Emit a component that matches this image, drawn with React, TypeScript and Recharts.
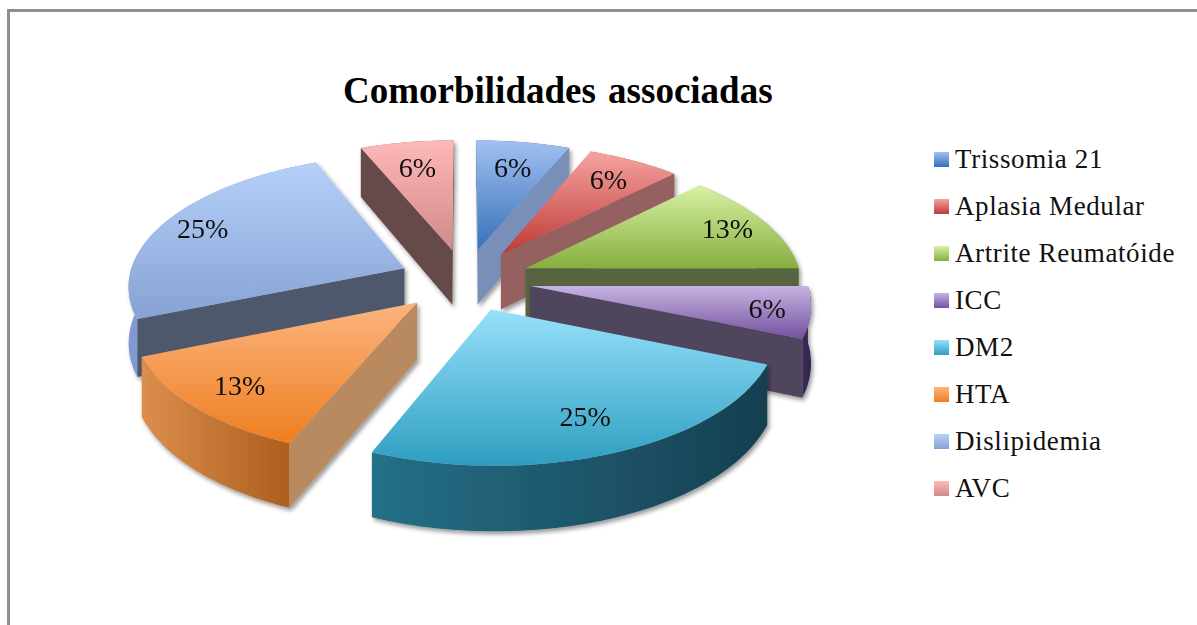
import { PieChart, Pie, Legend } from "recharts";

const categories = ["Trissomia 21", "Aplasia Medular", "Artrite Reumatóide", "ICC", "DM2", "HTA", "Dislipidemia", "AVC"];
const counts = [1, 1, 2, 1, 4, 2, 4, 1];
const percentLabels = ["6%", "6%", "13%", "6%", "25%", "13%", "25%", "6%"];

// top face gradient (light, dark), side wall, rim gradient
const topLight = ["#a2c0f2", "#f6a3a0", "#d6f2a4", "#c7b4e2", "#97e0fb", "#fcb480", "#b7d0fa", "#ffb8b8"];
const topDark = ["#3670b8", "#bd3a36", "#88ae3e", "#7350a0", "#2e9ec0", "#ee7e20", "#86a2d4", "#d08a8a"];
const wallColors = ["#7a8fb8", "#946060", "#566540", "#50455c", "#2a6a80", "#b98a60", "#4d596c", "#664848"];
const rimA = ["#5577aa", "#a04a48", "#6e8a38", "#3a2a55", "#257088", "#dc8e4c", "#7f9bd0", "#b07070"];
const rimB = ["#3a5a88", "#803a38", "#58702c", "#33264c", "#163f50", "#ac5e1e", "#7390c8", "#905a5a"];

// back to front, so nearer slices cover the ones behind
const paintOrder = [7, 0, 1, 6, 2, 3, 5, 4];

const data = categories.map((name, i) => ({ name, value: counts[i], label: percentLabels[i] }));

const EXPLODE = 0.24;
const TILT = 0.47;
const PERSP = 0.12;
const DEPTH = 56;

const rad = (d: number) => (d * Math.PI) / 180;

function makeProjector(cx: number, cy: number, R: number, mid: number) {
  return (r: number, theta: number, z: number) => {
    const U = EXPLODE * Math.sin(rad(mid)) + r * Math.sin(rad(theta));
    const V = -EXPLODE * Math.cos(rad(mid)) - r * Math.cos(rad(theta));
    const d = 1 / (1 - PERSP * V);
    return [cx + R * U * d, cy + R * TILT * V * d + z * DEPTH * d];
  };
}

const toPath = (pts: number[][]) =>
  "M" + pts.map((p) => p[0].toFixed(1) + "," + p[1].toFixed(1)).join("L") + "Z";

const signedArea = (pts: number[][]) =>
  pts.reduce((s, p, i) => {
    const q = pts[(i + 1) % pts.length];
    return s + p[0] * q[1] - q[0] * p[1];
  }, 0);

function sliceShape(only: number) {
  return (props: any) => {
    const { cx, cy, outerRadius, startAngle, endAngle, index } = props;
    if (index !== only) return <g />;
    const t0 = 90 - startAngle;
    const t1 = 90 - endAngle;
    const mid = (t0 + t1) / 2;
    const project = makeProjector(cx, cy, outerRadius, mid);

    const arc: number[] = [];
    for (let t = t0; t < t1; t += 1.5) arc.push(t);
    arc.push(t1);

    const top = [project(0, t0, 0), ...arc.map((t) => project(1, t, 0))];
    const rim = [...arc.map((t) => project(1, t, 0)), ...arc.slice().reverse().map((t) => project(1, t, 1))];
    const startWall = [project(0, t0, 0), project(1, t0, 0), project(1, t0, 1), project(0, t0, 1)];
    const endWall = [project(0, t1, 0), project(1, t1, 0), project(1, t1, 1), project(0, t1, 1)];
    // labels sit further out on the sides than at the top and front
    const labelPos = project(0.72 + 0.13 * Math.abs(Math.sin(rad(mid))), mid, 0);

    return (
      <g filter="url(#sliceShadow)">
        <path d={toPath(rim)} fill={`url(#rim${index})`} />
        {signedArea(startWall) < 0 && <path d={toPath(startWall)} fill={wallColors[index]} />}
        {signedArea(endWall) > 0 && <path d={toPath(endWall)} fill={wallColors[index]} />}
        <path d={toPath(top)} fill={`url(#top${index})`} />
        <text
          x={labelPos[0]}
          y={labelPos[1]}
          textAnchor="middle"
          dominantBaseline="central"
          fontFamily="'Liberation Serif'"
          fontSize={28}
          fill="#111"
        >
          {props.payload?.label ?? percentLabels[index]}
        </text>
      </g>
    );
  };
}

function LegendList() {
  return (
    <div style={{ fontFamily: "'Liberation Serif'", fontSize: 27, color: "#111" }}>
      {categories.map((c, i) => (
        <div key={c} style={{ display: "flex", alignItems: "center", height: 47 }}>
          <span
            style={{
              width: 15,
              height: 15,
              marginRight: 6,
              background: `linear-gradient(${topLight[i]}, ${topDark[i]})`,
            }}
          />
          <span style={{ letterSpacing: 0.6, whiteSpace: "nowrap" }}>{c}</span>
        </div>
      ))}
    </div>
  );
}

export default function App() {
  return (
    <div style={{ position: "absolute", left: 0, top: 0, width: 1197, height: 625, background: "#fff", overflow: "hidden" }}>
      <div
        style={{
          position: "absolute",
          left: 7,
          top: 9,
          width: 1300,
          height: 700,
          border: "3px solid #8e8e8e",
          boxSizing: "content-box",
        }}
      />
      <div
        style={{
          position: "absolute",
          left: 343,
          top: 69,
          width: 429,
          textAlign: "center",
          fontFamily: "'Liberation Serif'",
          fontWeight: "bold",
          fontSize: 37,
          wordSpacing: 3,
          whiteSpace: "nowrap",
          color: "#000",
        }}
      >
        Comorbilidades associadas
      </div>
      <div style={{ position: "absolute", left: 0, top: 0 }}>
        <PieChart width={1197} height={625} margin={{ top: 0, right: 0, bottom: 0, left: 0 }}>
          <defs>
            <filter id="sliceShadow" x="-10%" y="-10%" width="120%" height="120%">
              <feDropShadow dx={2} dy={3} stdDeviation={2} floodColor="#000" floodOpacity={0.4} />
            </filter>
            {categories.map((c, i) => (
              <linearGradient key={c} id={`top${i}`} x1="0" y1="0" x2="0" y2="1">
                <stop offset="0%" stopColor={topLight[i]} />
                <stop offset="100%" stopColor={topDark[i]} />
              </linearGradient>
            ))}
            {categories.map((c, i) => (
              <linearGradient key={c} id={`rim${i}`} x1="0" y1="0" x2="1" y2="0">
                <stop offset="0%" stopColor={rimA[i]} />
                <stop offset="100%" stopColor={rimB[i]} />
              </linearGradient>
            ))}
          </defs>
          {paintOrder.map((idx) => (
            <Pie
              key={idx}
              data={data}
              dataKey="value"
              nameKey="name"
              cx={465}
              cy={280}
              outerRadius={276}
              startAngle={90}
              endAngle={-270}
              stroke="none"
              legendType="none"
              isAnimationActive={false}
              shape={sliceShape(idx)}
            />
          ))}
          <Legend
            layout="vertical"
            content={<LegendList />}
            wrapperStyle={{ position: "absolute", left: 934, top: 136, width: 260 }}
          />
        </PieChart>
      </div>
    </div>
  );
}
